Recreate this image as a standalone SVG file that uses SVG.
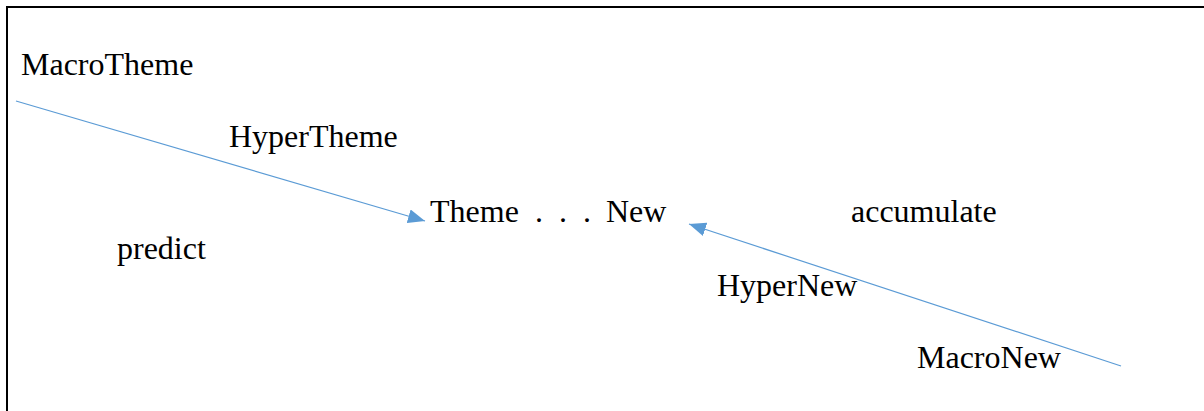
<svg xmlns="http://www.w3.org/2000/svg" width="1204" height="411" viewBox="0 0 1204 411">
  <style>
    .lbl { font-family: "Liberation Serif", "Times New Roman", serif; font-size: 32px; fill: #000; }
    .link { stroke: #5B9BD5; stroke-width: 1.2; fill: none; }
    .frame { stroke: #000; stroke-width: 2; fill: none; }
  </style>
  <defs>
    <marker id="arrowHead" viewBox="0 0 17 14" refX="17" refY="7" markerWidth="17" markerHeight="14" markerUnits="userSpaceOnUse" orient="auto">
      <path d="M0,0 L17,7 L0,14 Z" fill="#5B9BD5"/>
    </marker>
  </defs>
  <rect width="1204" height="411" fill="#fff"/>
  <!-- open frame: left and top edges -->
  <path class="frame" d="M7,411 V7 H1204"/>

  <g id="connectors">
    <line class="link" x1="16" y1="101" x2="425" y2="221" marker-end="url(#arrowHead)"/>
    <line class="link" x1="1121" y1="366" x2="689" y2="224" marker-end="url(#arrowHead)"/>
  </g>

  <g id="macro-theme"><text class="lbl" x="21" y="75">MacroTheme</text></g>
  <g id="hyper-theme"><text class="lbl" x="229" y="147">HyperTheme</text></g>
  <g id="theme-new">
    <text class="lbl" y="222"><tspan x="430">Theme</tspan><tspan x="535">.</tspan><tspan x="559">.</tspan><tspan x="583">.</tspan><tspan x="606">New</tspan></text>
  </g>
  <g id="accumulate"><text class="lbl" x="851" y="222">accumulate</text></g>
  <g id="predict"><text class="lbl" x="117" y="259">predict</text></g>
  <g id="hyper-new"><text class="lbl" x="717" y="296">HyperNew</text></g>
  <g id="macro-new"><text class="lbl" x="917" y="368">MacroNew</text></g>
</svg>
